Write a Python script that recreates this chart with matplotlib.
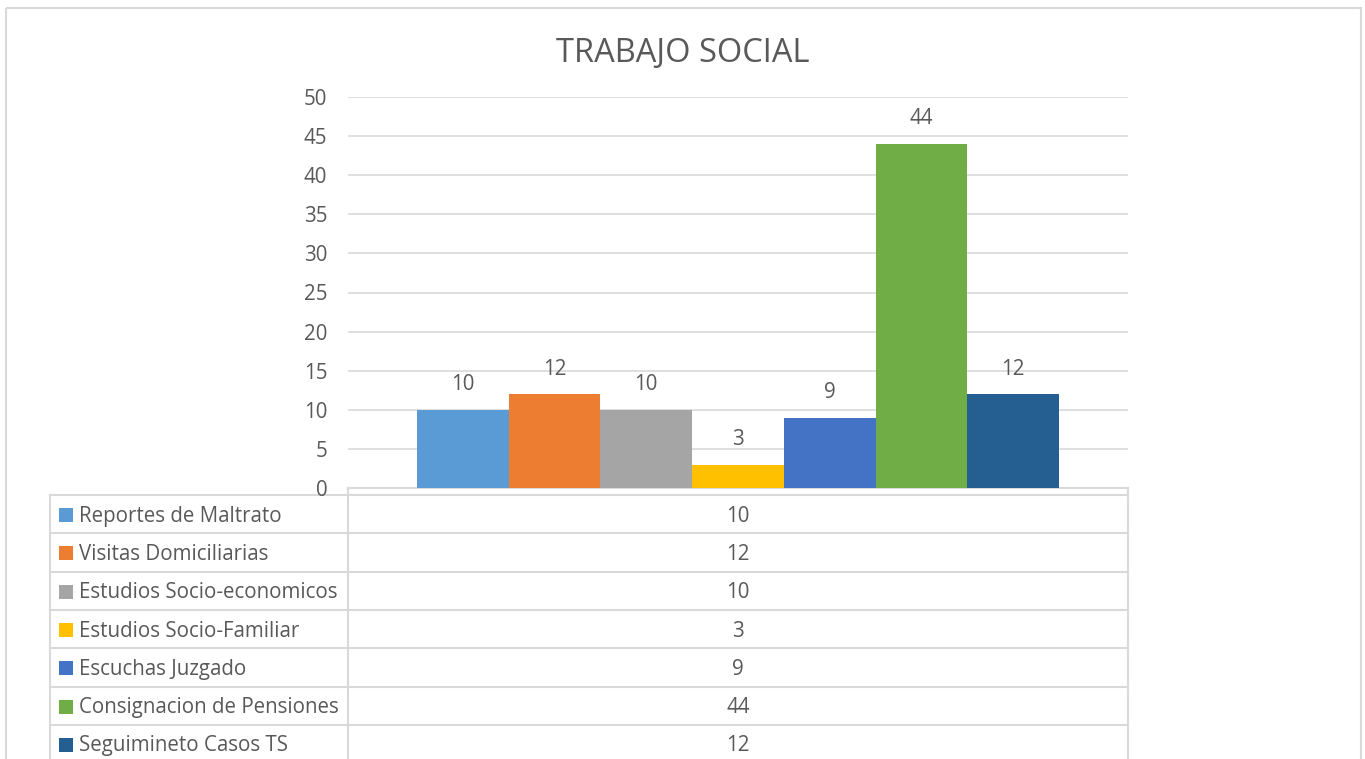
import matplotlib
matplotlib.use('Agg')
import matplotlib.pyplot as plt
from matplotlib.patches import Rectangle

# ── Data ──
categories = ['Reportes de Maltrato', 'Visitas Domiciliarias', 'Estudios Socio-economicos',
              'Estudios Socio-Familiar', 'Escuchas Juzgado', 'Consignacion de Pensiones',
              'Seguimineto Casos TS']
values = [10, 12, 10, 3, 9, 44, 12]
colors = ['#5B9BD5', '#ED7D31', '#A5A5A5', '#FFC000', '#4472C4', '#70AD47', '#255E91']
yticks = [0, 5, 10, 15, 20, 25, 30, 35, 40, 45, 50]

TXT = '#595959'
GRID = '#D9D9D9'
FONT = 'Open Sans'
FS = 14.8
W, H = 1365, 759

fig = plt.figure(figsize=(W / 100, H / 100), dpi=100, facecolor='white')

# background overlay in pixel coords (frame + data table)
bg = fig.add_axes([0, 0, 1, 1], zorder=0)
bg.set_xlim(0, W)
bg.set_ylim(H, 0)
bg.axis('off')

bg.add_patch(Rectangle((5.5, 7.5), 1355, 800, fill=False, edgecolor=GRID, lw=1.5))

bg.text(683, 53, 'TRABAJO SOCIAL', ha='center', va='center',
        fontsize=23.5, color=TXT, family=FONT)

# plot area
L, R, T, B = 348, 1128, 97, 488
ax = fig.add_axes([L / W, 1 - B / H, (R - L) / W, (B - T) / H], zorder=1)
ax.patch.set_visible(False)

n = len(values)
bw = 642 / 780 / n
xs = [0.5 + (i - (n - 1) / 2) * bw for i in range(n)]
bars = ax.bar(xs, values, width=bw, color=colors, zorder=3)
for x, v in zip(xs, values):
    ax.annotate(str(v), (x, v), xytext=(0, 18), textcoords='offset points',
                ha='center', va='center', fontsize=FS, color=TXT, family=FONT)

ax.set_xlim(0, 1)
ax.set_ylim(0, 50)
ax.set_yticks(yticks)
ax.set_yticklabels([str(t) for t in yticks], fontsize=FS, color=TXT, family=FONT)
ax.tick_params(axis='y', length=0, pad=15)
ax.set_xticks([])
ax.grid(axis='y', color=GRID, lw=1.2, zorder=0)
for s in ax.spines.values():
    s.set_visible(False)

# data table
row_h = 38.3
top0 = 495
bg.plot([L, R], [B, B], color=GRID, lw=1.5)
for k in range(n + 1):
    y = top0 + k * row_h
    bg.plot([50, R], [y, y], color=GRID, lw=1.5)
bg.plot([50, 50], [top0, H + 5], color=GRID, lw=1.5)
bg.plot([L, L], [B, H + 5], color=GRID, lw=1.5)
bg.plot([R, R], [B, H + 5], color=GRID, lw=1.5)

for i, (lab, v, c) in enumerate(zip(categories, values, colors)):
    yc = top0 + (i + 0.5) * row_h
    bg.add_patch(Rectangle((59, yc - 6), 14, 14, facecolor=c, edgecolor='none'))
    bg.text(79, yc + 2, lab, ha='left', va='center', fontsize=FS, color=TXT, family=FONT)
    bg.text((L + R) / 2, yc + 2, str(v), ha='center', va='center', fontsize=FS,
            color=TXT, family=FONT)

fig.savefig('out.png', dpi=100, facecolor='white')
plt.close()
